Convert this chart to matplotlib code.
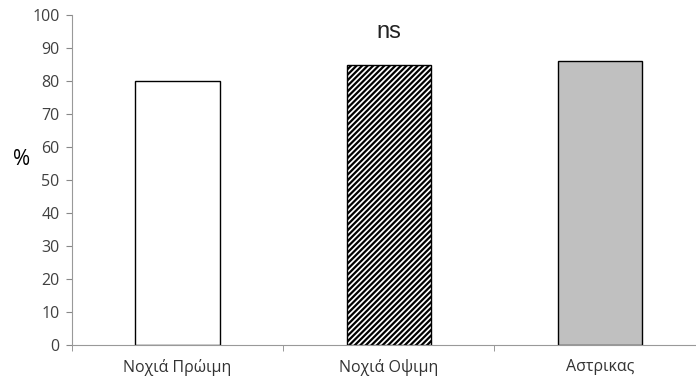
import matplotlib.pyplot as plt
import numpy as np

categories = ["Νοχιά Πρώιμη", "Νοχιά Οψιμη", "Αστρικας"]
values = [80, 85, 86]
fills = ["white", "white", "#c0c0c0"]
hatches = ["", "//////", ""]

plt.rcParams["font.family"] = ["Open Sans", "DejaVu Sans"]
plt.rcParams["hatch.linewidth"] = 1.6

fig = plt.figure(figsize=(6.96, 3.87), dpi=100)
ax = fig.add_axes([72 / 696, 1 - 345 / 387, 633.5 / 696, 330 / 387])

x = np.arange(len(categories))
ax.bar(x, values, 0.4, color=fills, edgecolor="black", linewidth=1.0, hatch=hatches)

ax.set_xlim(-0.5, 2.5)
ax.set_ylim(0, 100)
ax.set_yticks(np.arange(0, 101, 10))
ax.set_xticks(x, categories)
ax.set_xticks([-0.5, 0.5, 1.5], minor=True)
ax.tick_params(axis="x", which="major", length=0, pad=10, labelsize=11.5, labelcolor="#333333")
ax.tick_params(axis="x", which="minor", length=4, color="#888888", direction="out")
ax.tick_params(axis="y", length=4, color="#888888", labelsize=11.5, labelcolor="#404040", pad=5)

for s in ["top", "right"]:
    ax.spines[s].set_visible(False)
for s in ["left", "bottom"]:
    ax.spines[s].set_color("#999999")

fig.text(22 / 696, 1 - 160 / 387, "%", fontsize=15, ha="center", va="center", color="black")
ax.text(1, 95, "ns", fontsize=17, family="Liberation Sans", ha="center", va="center", color="#222222")

plt.savefig("out.png", dpi=100)
